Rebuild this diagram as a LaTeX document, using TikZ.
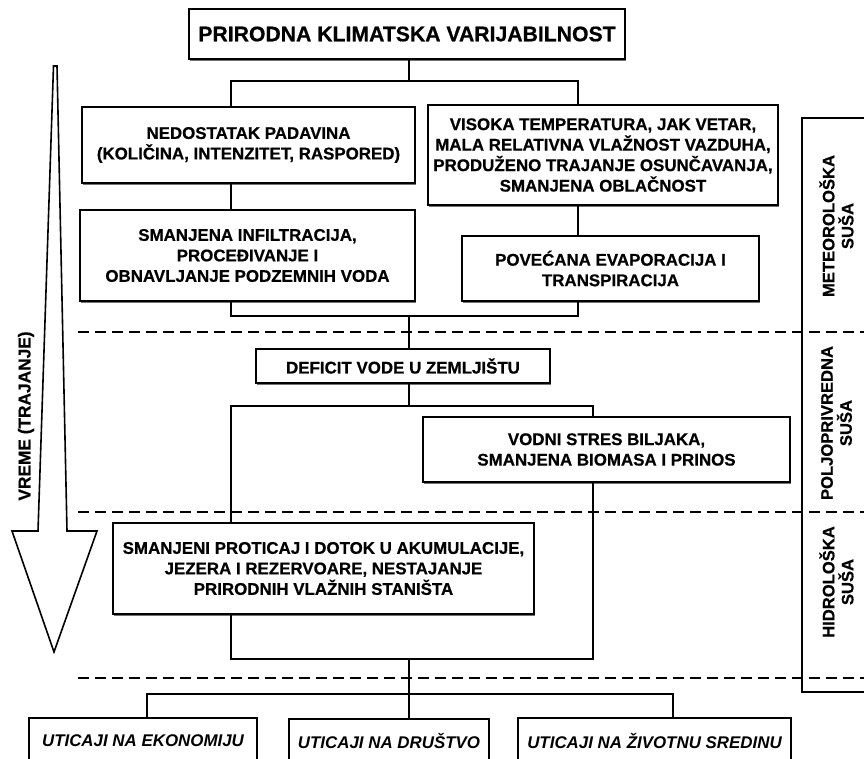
\documentclass[tikz,border=0pt]{standalone}
\usepackage{fontspec}
\setmainfont[BoldFeatures={FakeBold=0.6}]{Liberation Sans}
\usetikzlibrary{shadows}
\tikzset{
  box/.style={draw=black, line width=1.6pt, fill=white, inner sep=0pt, align=center,
    font=\fontsize{16.9}{20.5}\selectfont\bfseries,
    drop shadow={shadow xshift=1.2pt, shadow yshift=-1.6pt, fill=black!55, opacity=1}},
  ibox/.style={box, font=\fontsize{16.9}{20.5}\selectfont\bfseries\itshape},
  conn/.style={line width=1.3pt, line join=miter},
  sep/.style={line width=1.8pt, dash pattern=on 11pt off 6pt},
  lab/.style={rotate=90, align=center, inner sep=0pt, font=\fontsize{16.6}{19}\selectfont\bfseries}
}
\begin{document}
\begin{tikzpicture}[x=1pt, y=-1pt]
\useasboundingbox (0,0) rectangle (864,759);
\clip (0,0) rectangle (864,759);
\fill[white] (0,0) rectangle (864,759);

% separators
\coordinate (sl1) at (78,332);
\coordinate (sl2) at (78,512);
\coordinate (sl3) at (78,678);
\draw[sep] (sl1) -- (sl1 -| 864,0);
\draw[sep] (sl2) -- (sl2 -| 864,0);
\draw[sep] (sl3) -- (sl3 -| 864,0);

% right-side bracket box
\coordinate (rbt) at (802,118);
\coordinate (rbb) at (802,692);
\draw[line width=1.6pt] (rbt -| 870,0) -- (rbt) -- (rbb) -- (rbb -| 870,0);
\node[lab] (l1) at (836.5,226) {METEOROLOŠKA\\SUŠA};
\node[lab] (l2) at (836.5,423) {POLJOPRIVREDNA\\SUŠA};
\node[lab] (l3) at (836.5,582) {HIDROLOŠKA\\SUŠA};

% time arrow
\draw[line width=1.6pt, line join=miter, fill=white]
  (53.5,66) -- (57,66) -- (67,531) -- (97,531) -- (54,652) -- (12,531) -- (38,531) -- cycle;
\node[rotate=90, inner sep=0pt, font=\fontsize{17.3}{20}\selectfont\bfseries] (vr) at (26,416) {VREME (TRAJANJE)};

% boxes
\node[box, minimum width=436pt, minimum height=50pt, font=\fontsize{21.2}{24}\selectfont\bfseries] (top) at (407,34) {PRIRODNA KLIMATSKA VARIJABILNOST};
\node[box, minimum width=333pt, minimum height=76pt] (ned) at (248.5,145) {NEDOSTATAK PADAVINA\\(KOLIČINA, INTENZITET, RASPORED)};
\node[box, minimum width=350pt, minimum height=100pt] (vis) at (603,155) {VISOKA TEMPERATURA, JAK VETAR,\\MALA RELATIVNA VLAŽNOST VAZDUHA,\\PRODUŽENO TRAJANJE OSUNČAVANJA,\\SMANJENA OBLAČNOST};
\node[box, minimum width=335pt, minimum height=91pt] (inf) at (247.5,255.5) {SMANJENA INFILTRACIJA,\\PROCEĐIVANJE I\\OBNAVLJANJE PODZEMNIH VODA};
\node[box, minimum width=297pt, minimum height=65pt] (pov) at (610.5,268.5) {POVEĆANA EVAPORACIJA I\\TRANSPIRACIJA};
\node[box, minimum width=294pt, minimum height=34pt] (def) at (403,366) {DEFICIT VODE U ZEMLJIŠTU};
\node[box, minimum width=367pt, minimum height=65pt] (vod) at (606.5,449.5) {VODNI STRES BILJAKA,\\SMANJENA BIOMASA I PRINOS};
\node[box, minimum width=421pt, minimum height=91pt] (smp) at (323.5,568.5) {SMANJENI PROTICAJ I DOTOK U AKUMULACIJE,\\JEZERA I REZERVOARE, NESTAJANJE\\PRIRODNIH VLAŽNIH STANIŠTA};
\node[ibox, minimum width=228pt, minimum height=46pt] (eko) at (143,741) {UTICAJI NA EKONOMIJU};
\node[ibox, minimum width=200pt, minimum height=45pt] (dru) at (389,741.5) {UTICAJI NA DRUŠTVO};
\node[ibox, minimum width=273pt, minimum height=46pt] (ziv) at (654.5,741) {UTICAJI NA ŽIVOTNU SREDINU};

% connector guide coordinates
\coordinate (xl) at (231,0);
\coordinate (xm) at (409,0);
\coordinate (xr) at (578,0);
\coordinate (xr2) at (593,0);
\coordinate (xb1) at (147,0);
\coordinate (xb2) at (673,0);
\coordinate (j1) at (409,81);
\coordinate (j2) at (409,316);
\coordinate (j3) at (409,406);
\coordinate (j4) at (409,659);
\coordinate (j5) at (409,694);

% connectors
\draw[conn] (top.south -| xm) -- (j1);
\draw[conn] (xl |- ned.north) -- (xl |- j1) -- (xr |- j1) -- (xr |- vis.north);
\draw[conn] (xl |- ned.south) -- (xl |- inf.north);
\draw[conn] (xr |- vis.south) -- (xr |- pov.north);
\draw[conn] (xl |- inf.south) -- (xl |- j2) -- (xr |- j2) -- (xr |- pov.south);
\draw[conn] (j2) -- (xm |- def.north);
\draw[conn] (xm |- def.south) -- (j3);
\draw[conn] (xl |- smp.north) -- (xl |- j3) -- (xr2 |- j3) -- (xr2 |- vod.north);
\draw[conn] (xl |- smp.south) -- (xl |- j4) -- (xr2 |- j4) -- (xr2 |- vod.south);
\draw[conn] (j4) -- (xm |- dru.north);
\draw[conn] (xb1 |- eko.north) -- (xb1 |- j5) -- (xb2 |- j5) -- (xb2 |- ziv.north);
\end{tikzpicture}
\end{document}
